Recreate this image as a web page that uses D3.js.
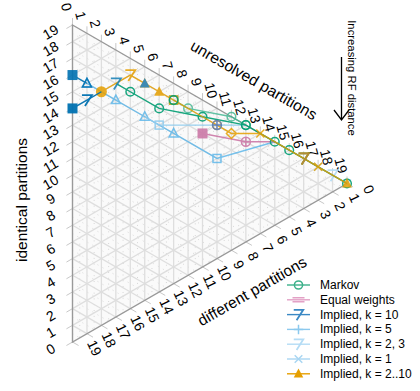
<!DOCTYPE html>
<html><head><meta charset="utf-8">
<script src="https://cdn.jsdelivr.net/npm/d3@7"></script>
<style>body{margin:0;background:#fff} svg{display:block} text{font-family:"Liberation Sans",Arial,Helvetica,sans-serif}</style>
</head><body><svg id="c" width="420" height="391"></svg>
<script>
// ---- data (identical, unresolved, different partitions; total 19) ----
const TOTAL = 19;
const tickValues = d3.range(0, 20);
const axisTitles = ["identical partitions", "unresolved partitions", "different partitions"];
const seriesNames = ["Markov", "Equal weights", "Implied, k = 10", "Implied, k = 5", "Implied, k = 2, 3", "Implied, k = 1", "Implied, k = 2..10"];

const markov = [[14,3,2],[13,4,2],[11,6,2],[9,9,1],[7,12,0],[5,14,0],[4,15,0],[3,16,0],[2,17,0],[0,19,0]];
const markovB = [[11,7,1],[10,8,1],[8,11,0],[7,12,0]];
const equalWeights = [[8,9,2],[6,12,1],[5,14,0]];
const impliedK10 = [[14,0,5],[14,1,4],[14,2,3]];
const impliedK10b = [[16,0,3],[15,1,3]];
const impliedK5 = [[15,1,3],[13,3,3],[11,5,3],[9,7,3],[6,10,3],[5,14,0]];
const impliedK23 = [[11,5,3],[10,6,3],[7,12,0]];
const impliedK1 = [[2,17,0],[1,18,0],[0,19,0]];
const impliedK2to10 = [[14,2,3],[14,3,2],[14,4,1],[13,5,1],[12,6,1],[11,7,1],[9,9,1],[8,10,1],[7,11,1],[6,13,0],[3,16,0],[2,17,0],[1,18,0],[0,19,0]];

// ---- styles ----
const C = {markov:"#009E73", ew:"#CC79A7", k10:"#0072B2", k5:"#56B4E9", k23:"#8fcbee", k1:"#b3dcf4", k210:"#E69F00"};
const layers = [
  {pts: impliedK5, color: C.k5, op: 0.8, marks: ["tri","tri","tri","tri","square",null]},
  {pts: impliedK23, color: C.k23, op: 0.9, marks: [null,"square",null]},
  {pts: impliedK1, color: C.k1, op: 0.9, marks: ["cross","seven","cross"]},
  {pts: equalWeights, color: C.ew, op: 0.9, marks: ["squareFill","plusCircle",null]},
  {pts: markovB, color: "#3db58f", op: 0.8, marks: ["square","circle","circle","circle"]},
  {pts: markov, color: C.markov, op: 0.9, marks: [null,"circle","circle","circle","circle","circle","circle","seven",null,"circle"]},
  {pts: impliedK2to10, color: C.k210, op: 0.85, marks: ["circleFill",null,"seven","triFill","triFill","square",null,"circle","diamond","cross","seven","cross",null,"triFill"]},
  {pts: impliedK10, color: C.k10, op: 0.95, marks: ["squareFill","seven",null]},
  {pts: impliedK10b, color: C.k10, op: 0.9, marks: ["squareFill","tri"]},
];
const extraMarks = [
  {p:[14,3,2], m:"seven", color:"#1f84b8"},
  {p:[13,5,1], m:"triFill", color:"#2a86c2"},
  {p:[8,10,1], m:"plusCircle", color:"#5a7fc0"},
  {p:[11,7,1], m:"circle", color:C.markov},
  {p:[3,16,0], m:"seven", color:"#b08a3a"},
];

const svg = d3.select("#c");
const xScale = d3.scaleLinear().domain([0, TOTAL]).range([72.5, 347]);
const hScale = d3.scaleLinear().domain([0, TOTAL]).range([342, 25]);
const P = t => [xScale(t[1]), hScale(t[0] + t[1] / 2)];
const line = d3.line().x(d => P(d)[0]).y(d => P(d)[1]);

// background
svg.append("path").attr("d", line([[19,0,0],[0,19,0],[0,0,19]]) + "Z").attr("fill", "#fafafa");

// minor dotted grid
const gGrid = svg.append("g");
for (let k = 0.5; k < TOTAL; k += 1) {
  [[[TOTAL-k,k,0],[0,k,TOTAL-k]], [[TOTAL-k,0,k],[0,TOTAL-k,k]]].forEach(seg => {
    gGrid.append("path").attr("d", line(seg)).attr("stroke", "#c4c4c4").attr("stroke-width", 0.8)
      .attr("stroke-dasharray", "0.8,5").attr("fill", "none");
  });
}
// major grid
for (let k = 1; k < TOTAL; k++) {
  [[[TOTAL-k,k,0],[0,k,TOTAL-k]], [[k,0,TOTAL-k],[k,TOTAL-k,0]], [[TOTAL-k,0,k],[0,TOTAL-k,k]]].forEach(seg => {
    gGrid.append("path").attr("d", line(seg)).attr("stroke", "#dedede").attr("stroke-width", 1.3).attr("fill", "none");
  });
}
// ticks
const tickLen = 7;
tickValues.forEach(v => {
  const a = P([v, 0, TOTAL - v]);
  gGrid.append("line").attr("x1", a[0]).attr("y1", a[1]).attr("x2", a[0] - tickLen*Math.cos(Math.PI/6)).attr("y2", a[1] + tickLen*0.5).attr("stroke", "#c8c8c8");
  const b = P([TOTAL - v, v, 0]);
  gGrid.append("line").attr("x1", b[0]).attr("y1", b[1]).attr("x2", b[0]).attr("y2", b[1] - tickLen).attr("stroke", "#c8c8c8");
  const c = P([0, TOTAL - v, v]);
  gGrid.append("line").attr("x1", c[0]).attr("y1", c[1]).attr("x2", c[0] + tickLen*Math.cos(Math.PI/6)).attr("y2", c[1] + tickLen*0.5).attr("stroke", "#c8c8c8");
});
// edges
svg.append("path").attr("d", line([[19,0,0],[0,19,0],[0,0,19]]) + "Z").attr("fill", "none").attr("stroke", "#999").attr("stroke-width", 1.4);

// tick labels
const gLab = svg.append("g").attr("font-size", 14).attr("fill", "#000");
tickValues.forEach(v => {
  const a = P([v, 0, TOTAL - v]);
  gLab.append("text").attr("transform", `translate(${a[0]-22},${a[1]+7}) rotate(-30)`).attr("text-anchor", "middle").attr("dominant-baseline", "central").text(v);
  const b = P([TOTAL - v, v, 0]);
  gLab.append("text").attr("transform", `translate(${b[0]-6},${b[1]-18}) rotate(75)`).attr("text-anchor", "middle").attr("dominant-baseline", "central").text(v);
  const c = P([0, TOTAL - v, v]);
  gLab.append("text").attr("transform", `translate(${c[0]+22},${c[1]+6}) rotate(65)`).attr("text-anchor", "middle").attr("dominant-baseline", "central").text(v);
});
// axis titles
const gT = svg.append("g").attr("font-size", 15.5);
gT.append("text").attr("transform", "translate(21,200) rotate(-90)").attr("text-anchor", "middle").attr("dominant-baseline", "central").text(axisTitles[0]);
gT.append("text").attr("transform", "translate(254,80) rotate(30)").attr("text-anchor", "middle").attr("dominant-baseline", "central").text(axisTitles[1]);
gT.append("text").attr("transform", "translate(252,291) rotate(-30)").attr("text-anchor", "middle").attr("dominant-baseline", "central").text(axisTitles[2]);
// RF arrow
svg.append("text").attr("transform", "translate(352,78) rotate(90)").attr("font-size", 11.3).attr("text-anchor", "middle").attr("dominant-baseline", "central").text("Increasing RF distance");
svg.append("path").attr("d", "M341.5,57 V120 M334,110 L341.5,120 L349,110").attr("stroke", "#000").attr("stroke-width", 1.3).attr("fill", "none");

// markers
function marker(g, type, x, y, color, s = 1) {
  const sw = 1.5;
  if (!type) return;
  switch (type) {
    case "circle": g.append("circle").attr("cx", x).attr("cy", y).attr("r", 4.3*s).attr("fill", "none").attr("stroke", color).attr("stroke-width", sw); break;
    case "circleFill": g.append("circle").attr("cx", x).attr("cy", y).attr("r", 5.5*s).attr("fill", color); break;
    case "square": g.append("rect").attr("x", x-4*s).attr("y", y-4*s).attr("width", 8*s).attr("height", 8*s).attr("fill", "none").attr("stroke", color).attr("stroke-width", sw); break;
    case "squareFill": g.append("rect").attr("x", x-5*s).attr("y", y-5*s).attr("width", 10*s).attr("height", 10*s).attr("fill", color); break;
    case "tri": g.append("path").attr("d", `M${x},${y-5*s} L${x+4.5*s},${y+3.5*s} L${x-4.5*s},${y+3.5*s} Z`).attr("fill", "none").attr("stroke", color).attr("stroke-width", sw); break;
    case "triFill": g.append("path").attr("d", `M${x},${y-5.5*s} L${x+5*s},${y+4*s} L${x-5*s},${y+4*s} Z`).attr("fill", color); break;
    case "diamond": g.append("path").attr("d", `M${x},${y-5*s} L${x+5*s},${y} L${x},${y+5*s} L${x-5*s},${y} Z`).attr("fill", "none").attr("stroke", color).attr("stroke-width", sw); break;
    case "plusCircle": g.append("circle").attr("cx", x).attr("cy", y).attr("r", 4.5*s).attr("fill", "none").attr("stroke", color).attr("stroke-width", sw);
      g.append("path").attr("d", `M${x-4.5*s},${y} H${x+4.5*s} M${x},${y-4.5*s} V${y+4.5*s}`).attr("stroke", color).attr("stroke-width", sw); break;
    case "cross": g.append("path").attr("d", `M${x-4*s},${y-4*s} L${x+4*s},${y+4*s} M${x+4*s},${y-4*s} L${x-4*s},${y+4*s}`).attr("stroke", color).attr("stroke-width", sw); break;
    case "plus": g.append("path").attr("d", `M${x-5*s},${y} H${x+5*s} M${x},${y-5*s} V${y+5*s}`).attr("stroke", color).attr("stroke-width", sw); break;
    case "seven": g.append("path").attr("d", `M${x-5*s},${y-5*s} H${x+5*s} L${x-2*s},${y+6*s}`).attr("fill", "none").attr("stroke", color).attr("stroke-width", sw+0.3); break;
    case "equal": g.append("path").attr("d", `M${x-6},${y-2} H${x+6} M${x-6},${y+2} H${x+6}`).attr("stroke", color).attr("stroke-width", 1.5); break;
  }
}
const gData = svg.append("g");
layers.forEach(L => {
  const g = gData.append("g").attr("opacity", L.op);
  g.append("path").attr("d", line(L.pts)).attr("fill", "none").attr("stroke", L.color).attr("stroke-width", 1.4);
  L.pts.forEach((p, j) => { const q = P(p); marker(g, L.marks[j], q[0], q[1], L.color); });
});
extraMarks.forEach(e => { const q = P(e.p); marker(gData.append("g").attr("opacity", 0.9), e.m, q[0], q[1], e.color); });

// legend
const legendColors = ["#3cb08a", "#e3a1c6", "#3a88c4", "#8cc9ee", "#b4dcf5", "#a9d6f2", "#E69F00"];
const legendMarks = ["circle", "equal", "seven", "plus", "seven", "cross", "triFill"];
const gL = svg.append("g").attr("font-size", 12);
seriesNames.forEach((n, j) => {
  const y = 285 + j * 14.8;
  gL.append("line").attr("x1", 287).attr("x2", 310).attr("y1", y).attr("y2", y).attr("stroke", legendColors[j]).attr("stroke-width", 1.4);
  marker(gL, legendMarks[j], 298.5, y, legendColors[j], 0.95);
  gL.append("text").attr("x", 320).attr("y", y).attr("dominant-baseline", "central").text(n);
});
</script></body></html>
